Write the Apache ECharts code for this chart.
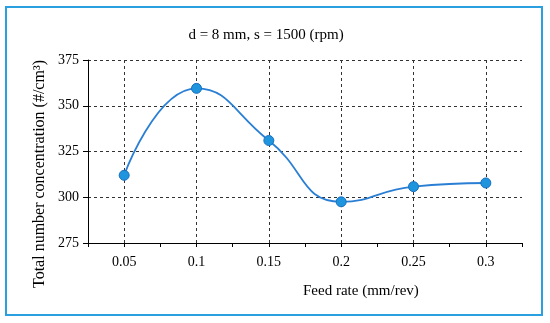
<!DOCTYPE html>
<html>
<head>
<meta charset="utf-8">
<script src="https://cdn.jsdelivr.net/npm/echarts@6/dist/echarts.min.js"></script>
<style>html,body{margin:0;padding:0;background:#fff}#c{width:550px;height:323px}</style>
</head>
<body>
<div id="c"></div>
<script>
const categories = ['0.05', '0.1', '0.15', '0.2', '0.25', '0.3'];
const feedRates = [0.05, 0.1, 0.15, 0.2, 0.25, 0.3];
const concentration = [312, 359.5, 331, 297.5, 305.8, 307.8];
const yTicks = [275, 300, 325, 350, 375];
const titleText = 'd = 8 mm, s = 1500 (rpm)';
const xName = 'Feed rate (mm/rev)';
const yName = 'Total number concentration (#/cm\u00B3)';

const font = 'Liberation Serif, Times New Roman, serif';
const chart = echarts.init(document.getElementById('c'), null, {renderer: 'canvas'});
const dash = {color: '#333', width: 1, type: [3, 3]};
chart.setOption({
  animation: false,
  backgroundColor: '#fff',
  title: {text: titleText, left: 261, top: 23, textAlign: 'center',
    textStyle: {fontFamily: font, fontSize: 15, fontWeight: 'normal', color: '#000'}},
  grid: {left: 88, right: 28, top: 60, bottom: 80},
  xAxis: {
    type: 'value', min: 0.025, max: 0.325, interval: 0.025,
    axisLine: {show: true, lineStyle: {color: '#000', width: 1}},
    axisTick: {show: true, length: 4, lineStyle: {color: '#000'}},
    splitLine: {show: false},
    axisLabel: {
      color: '#000', fontFamily: font, fontSize: 14, margin: 12,
      showMinLabel: true, showMaxLabel: true,
      formatter: function (v) {
        for (let i = 0; i < feedRates.length; i++) {
          if (Math.abs(feedRates[i] - v) < 1e-6) return categories[i];
        }
        return '';
      }
    }
  },
  yAxis: {
    type: 'value', min: yTicks[0], max: yTicks[yTicks.length - 1], interval: 25,
    axisLine: {show: true, lineStyle: {color: '#000', width: 1}},
    axisTick: {show: true, length: 5, lineStyle: {color: '#000'}},
    axisLabel: {color: '#000', fontFamily: font, fontSize: 14, margin: 9},
    splitLine: {show: true, lineStyle: dash}
  },
  graphic: [
    {type: 'rect', shape: {x: 6, y: 7, width: 536, height: 308},
      style: {fill: 'none', stroke: '#2aa0e0', lineWidth: 2}, z: 100},
    {type: 'text', left: 303, top: 284,
      style: {text: xName, fill: '#000', font: '15px ' + font}},
    {type: 'text', x: 40, y: 174, rotation: Math.PI / 2,
      style: {text: yName, fill: '#000', font: '16px ' + font, align: 'center', verticalAlign: 'middle'}}
  ],
  series: [{
    type: 'line',
    data: feedRates.map((x, i) => [x, concentration[i]]),
    smooth: 0.5,
    symbol: 'circle', symbolSize: 10,
    lineStyle: {color: '#2a7fd4', width: 1.8},
    itemStyle: {color: '#1f95de', borderColor: '#1a6fc0', borderWidth: 1},
    markLine: {
      silent: true, symbol: 'none', label: {show: false},
      lineStyle: dash,
      data: feedRates.map(x => ({xAxis: x}))
    },
    z: 5
  }]
});
</script>
</body>
</html>
